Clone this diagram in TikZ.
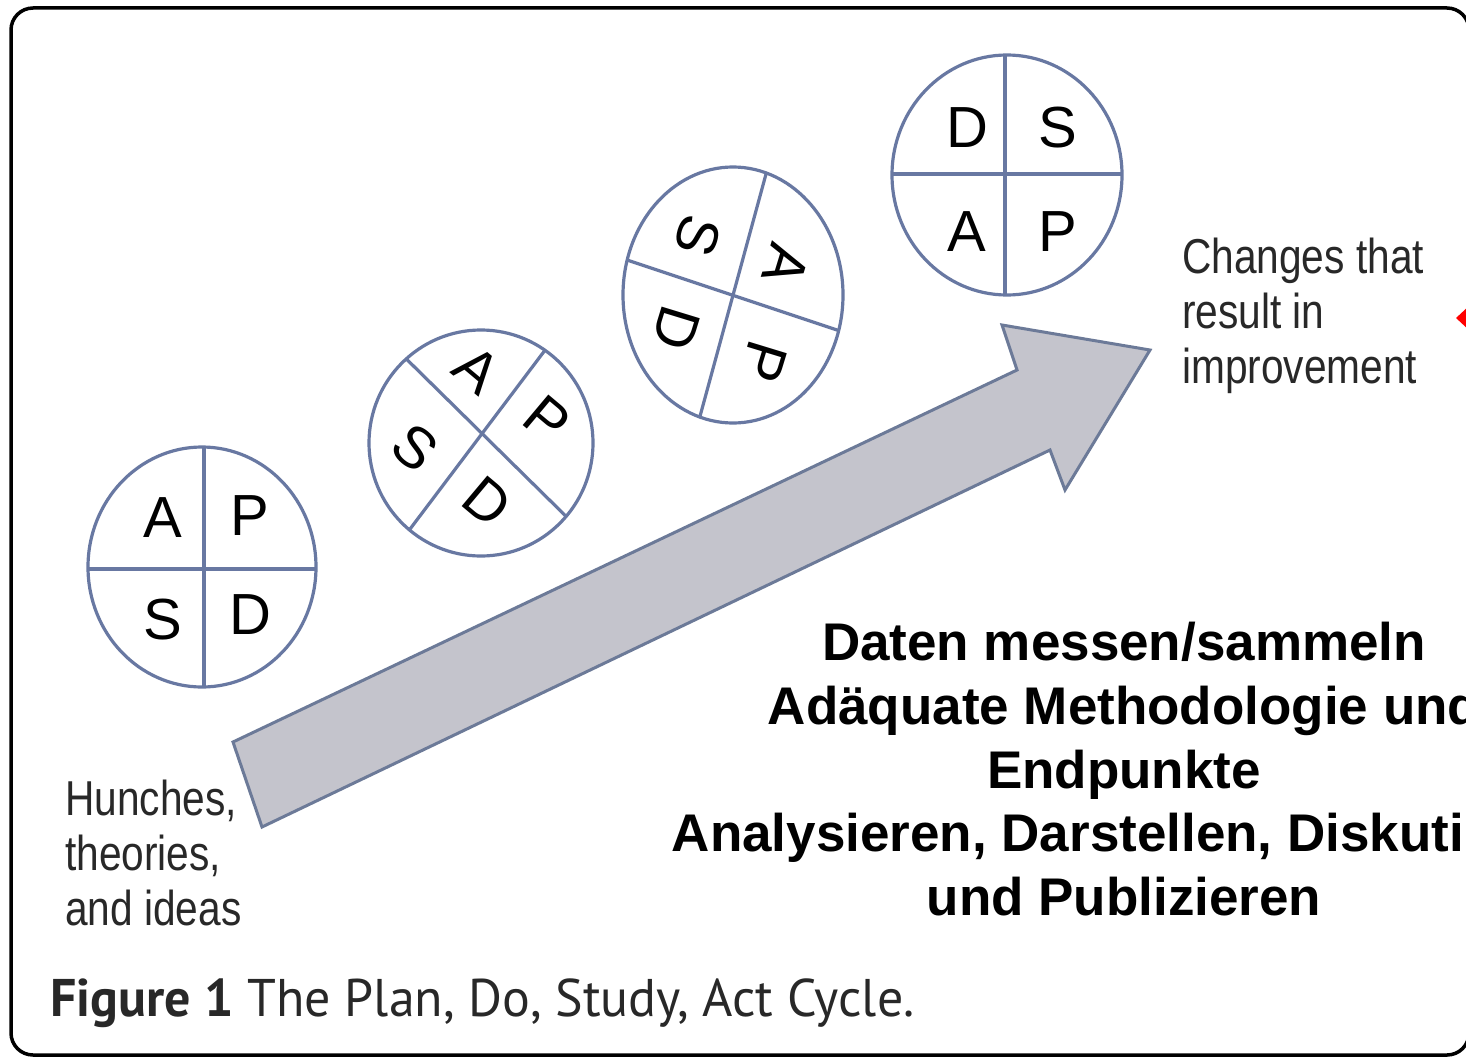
\documentclass[tikz,border=0pt]{standalone}
\usepackage{fontspec}
\setmainfont{Liberation Sans}
\newfontfamily\capfont{PT Sans}
\definecolor{ringcol}{RGB}{104,120,162}
\definecolor{arrowfill}{RGB}{196,196,204}
\definecolor{arrowline}{RGB}{108,122,152}
\definecolor{txtcol}{RGB}{40,40,40}
\begin{document}
\begin{tikzpicture}[x=1pt,y=-1pt,
  ring/.style={draw=ringcol, line width=3.2pt},
  quad/.style={inner sep=0pt, font=\fontsize{58}{58}\selectfont},
  smalltxt/.style={inner sep=0pt, anchor=north west, align=left, text=txtcol,
     font=\fontsize{49}{55}\selectfont, xscale=0.83},
  bigtxt/.style={inner sep=0pt, anchor=north, align=center,
     font=\bfseries\fontsize{53}{63.7}\selectfont},
  bigarrow/.style={fill=arrowfill, draw=arrowline, line width=3pt, line join=miter}]
\useasboundingbox (0,0) rectangle (1466,1057);
\clip (0,0) rectangle (1466,1057);
\fill[white] (0,0) rectangle (1466,1057);
% frame
\draw[line width=3.5pt, rounded corners=22pt] (11,8) rectangle (1469,1055);
% big arrow
\draw[bigarrow] (233,742) -- (1017,370) -- (1002,325) -- (1150,350) -- (1065,490) -- (1050,450) -- (262,827) -- cycle;
% circle 1
\begin{scope}
  \clip (202,567) ellipse [x radius=114pt, y radius=120pt];
  \draw[ring] (204,430) -- (204,700);
  \draw[ring] (80,569) -- (330,569);
\end{scope}
\draw[ring] (202,567) ellipse [x radius=114pt, y radius=120pt];
\node[quad] (c1a) at (163,518) {A};
\node[quad] (c1p) at (250,516) {P};
\node[quad] (c1s) at (163,620) {S};
\node[quad] (c1d) at (250,615) {D};
% circle 2
\begin{scope}
  \clip (481,443) ellipse [x radius=112pt, y radius=113pt];
  \draw[ring] (380,333) -- (584,534);
  \draw[ring] (401,541) -- (564,325);
\end{scope}
\draw[ring] (481,443) ellipse [x radius=112pt, y radius=113pt];
\node[quad, rotate=-40] (c2a) at (477,370) {A};
\node[quad, rotate=-40] (c2p) at (547,420) {P};
\node[quad, rotate=-40] (c2s) at (415,448) {S};
\node[quad, rotate=-40] (c2d) at (487,502) {D};
% circle 3
\begin{scope}
  \clip (733,295) ellipse [x radius=110pt, y radius=128pt];
  \draw[ring] (775,141) -- (690,453);
  \draw[ring] (606,253) -- (858,337);
\end{scope}
\draw[ring] (733,295) ellipse [x radius=110pt, y radius=128pt];
\node[quad, rotate=-107] (c3s) at (698,236) {S};
\node[quad, rotate=-107] (c3a) at (786,265) {A};
\node[quad, rotate=-107] (c3d) at (676,328) {D};
\node[quad, rotate=-107] (c3p) at (764,362) {P};
% circle 4
\begin{scope}
  \clip (1007,175) ellipse [x radius=115pt, y radius=120pt];
  \draw[ring] (1005,40) -- (1005,310);
  \draw[ring] (880,174) -- (1135,174);
\end{scope}
\draw[ring] (1007,175) ellipse [x radius=115pt, y radius=120pt];
\node[quad] (c4d) at (967,128) {D};
\node[quad] (c4s) at (1058,128) {S};
\node[quad] (c4a) at (967,232) {A};
\node[quad] (c4p) at (1058,232) {P};
% texts
\node[smalltxt] (changes) at (1182,238) {Changes that\\result in\\improvement};
\node[smalltxt] (hunches) at (65,780) {Hunches,\\theories,\\and ideas};
\node[bigtxt] (steps) at (1124,622) {Daten messen/sammeln\\Adäquate Methodologie und\\Endpunkte\\Analysieren, Darstellen, Diskutieren\\und Publizieren};
\node[inner sep=0pt, anchor=north west, text=txtcol, font=\capfont\fontsize{53}{53}\selectfont, xscale=0.98] (caption) at (50,979) {\textbf{Figure 1} The Plan, Do, Study, Act Cycle.};
% red marker at right edge
\fill[red] (1456,318) -- (1470,305) -- (1484,318) -- (1470,331) -- cycle;
\end{tikzpicture}
\end{document}
